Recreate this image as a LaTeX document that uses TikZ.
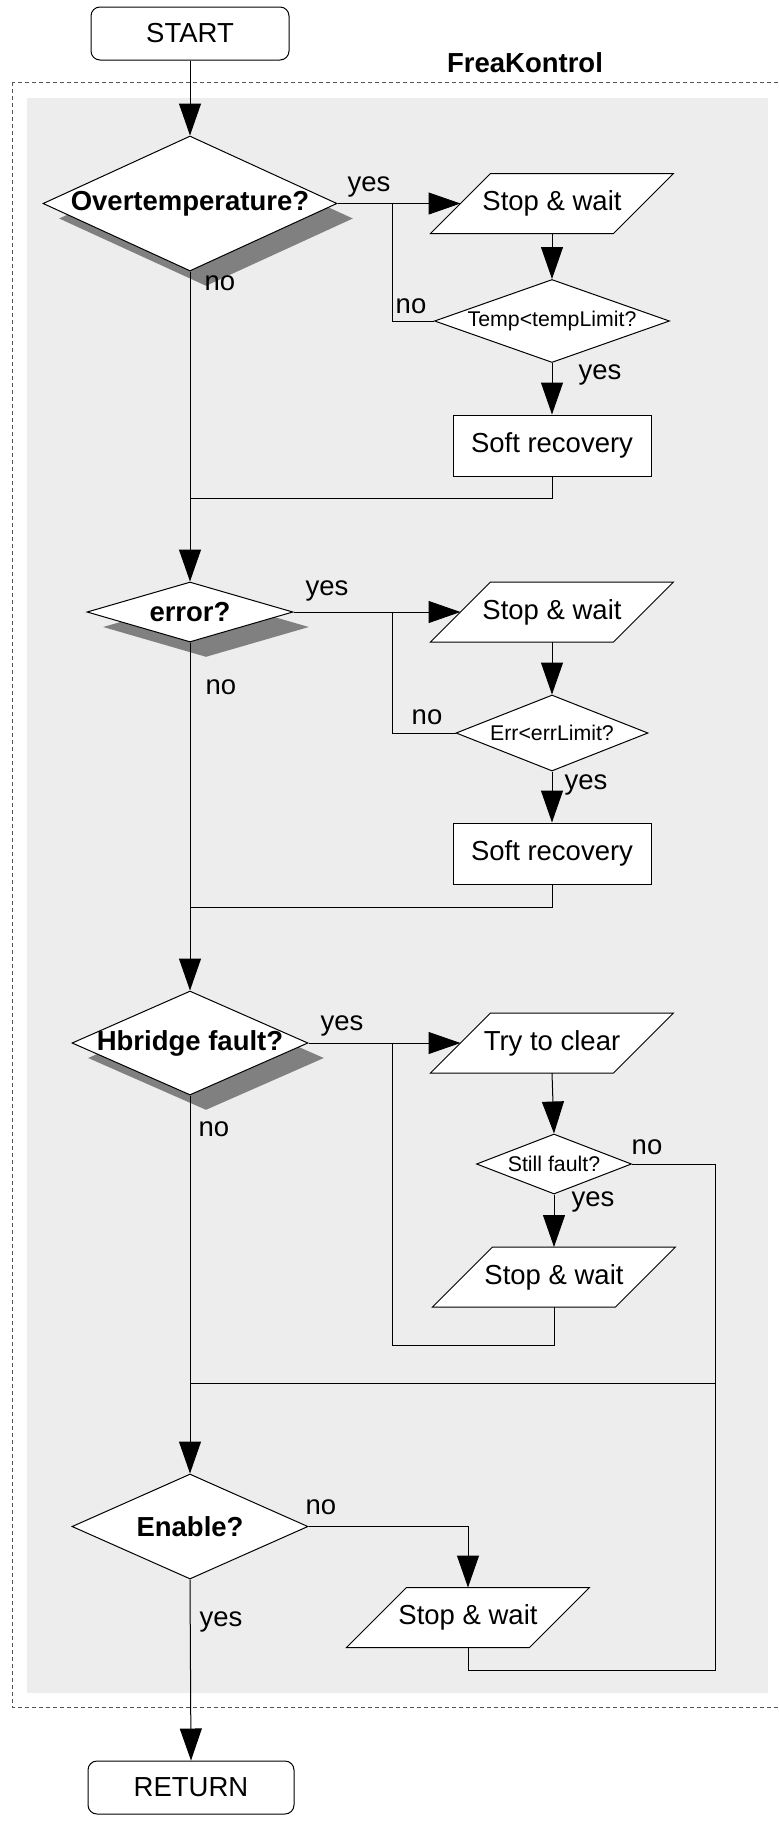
\documentclass[tikz,border=0pt]{standalone}
\usepackage{fontspec}
\setmainfont{Liberation Sans}
\usetikzlibrary{shapes.geometric,arrows.meta,shadows}
\definecolor{bggray}{RGB}{237,237,237}
\definecolor{shgray}{RGB}{128,128,128}
\definecolor{dashgray}{RGB}{85,85,85}
\begin{document}
\begin{tikzpicture}[x=1pt,y=-1pt,line width=1pt,
  big/.style={font=\fontsize{27.5}{32}\selectfont},
  bigb/.style={font=\fontsize{27.5}{32}\selectfont\bfseries},
  small/.style={font=\fontsize{21.3}{25}\selectfont},
  lbl/.style={big, inner sep=0pt},
  arr/.style={-{Triangle[length=32pt,width=22pt]}},
  terminal/.style={draw, fill=white, rectangle, rounded corners=9pt, minimum width=#1, minimum height=53pt, inner sep=0pt, big},
  decision/.style n args={2}{draw, fill=white, diamond, minimum width=#1, minimum height=#2, inner sep=0pt},
  shadowed/.style={drop shadow={shadow xshift=16pt, shadow yshift=-15pt, fill=shgray, opacity=1}},
  process/.style={draw, fill=white, rectangle, minimum width=198pt, minimum height=61pt, inner sep=0pt, big},
  io/.style={draw, fill=white, trapezium, trapezium left angle=45, trapezium right angle=135,
    inner sep=0pt, outer sep=0pt, text width=123pt, text height=30pt, text depth=30pt},
]
\useasboundingbox (0,0) rectangle (779,1821);
% container
\fill[bggray] (27,98) rectangle (768,1693);
\draw[dashgray, line width=0.8pt, dash pattern=on 4pt off 3pt] (12,82) rectangle (800,1707);
\node[bigb, inner sep=0pt] (title) at (525,63) {FreaKontrol};

% terminals
\node[terminal=198pt] (start) at (190,33.5) {START};
\node[terminal=206pt] (ret) at (191,1787.5) {RETURN};

% main decisions
\node[decision={294pt}{135pt}, shadowed, label={[bigb]center:Overtemperature?}] (d1) at (190,203.5) {};
\node[decision={206pt}{60pt}, shadowed, label={[bigb]center:error?}] (d2) at (190,612) {};
\node[decision={236pt}{104pt}, shadowed, label={[bigb]center:Hbridge fault?}] (d3) at (190,1043) {};
\node[decision={236pt}{105pt}, label={[bigb]center:Enable?}] (d4) at (190,1526.5) {};

% block 1
\node[io, label={[big]center:Stop \& wait}] (p1) at (552,203.5) {};
\node[decision={235pt}{83pt}, label={[small]center:Temp<tempLimit?}] (s1) at (552,321) {};
\node[process] (r1) at (552,445.5) {Soft recovery};

% block 2
\node[io, label={[big]center:Stop \& wait}] (p2) at (552,612) {};
\node[decision={192pt}{76pt}, label={[small]center:Err<errLimit?}] (s2) at (552,733) {};
\node[process] (r2) at (552,853.5) {Soft recovery};

% block 3
\node[io, label={[big]center:Try to clear}] (p3) at (552,1043) {};
\node[decision={155pt}{60pt}, label={[small]center:Still fault?}] (s3) at (554,1164) {};
\node[io, label={[big]center:Stop \& wait}] (p4) at (554,1277) {};

% block 4
\node[io, label={[big]center:Stop \& wait}] (p5) at (468,1617.5) {};

% junction coordinates
\coordinate (j1) at (392,203.5);
\coordinate (j2) at (392,612);
\coordinate (j3) at (392,1043);
\coordinate (m1) at (190,498);
\coordinate (m2) at (190,907);
\coordinate (m3) at (190,1383);
\coordinate (k1) at (715,1383);
\coordinate (k2) at (715,1670);
\coordinate (q1) at (392,1345);

% main line
\draw[arr] (start.south) -- (d1.north);
\draw[arr] (d1.south) -- (d2.north);
\draw[arr] (d2.south) -- (d3.north);
\draw[arr] (d3.south) -- (d4.north);
\draw[arr] (d4.south) -- (ret.north);

% block 1 edges
\draw[arr] (d1.east) -- (p1.left side);
\draw[arr] (p1.south) -- (s1.north);
\draw (s1.west) -| (j1);
\draw[arr] (s1.south) -- (r1.north);
\draw (r1.south) |- (m1);

% block 2 edges
\draw[arr] (d2.east) -- (p2.left side);
\draw[arr] (p2.south) -- (s2.north);
\draw (s2.west) -| (j2);
\draw[arr] (s2.south) -- (r2.north);
\draw (r2.south) |- (m2);

% block 3 edges
\draw[arr] (d3.east) -- (p3.left side);
\draw[arr] (p3.south) -- (s3.north);
\draw[arr] (s3.south) -- (p4.north);
\draw (p4.south) |- (q1) -- (j3);
\draw (s3.east) -| (k2) -| (p5.south);
\draw (k1) -- (m3);

% block 4 edges
\draw[arr] (d4.east) -| (p5.north);

% branch labels
\node[lbl] (y1) at (369,187) {yes};
\node[lbl] (n1) at (220,283) {no};
\node[lbl] (n2) at (411,306) {no};
\node[lbl] (y2) at (600,375) {yes};
\node[lbl] (y3) at (327,591) {yes};
\node[lbl] (n3) at (221,687) {no};
\node[lbl] (n4) at (427,717) {no};
\node[lbl] (y4) at (586,785) {yes};
\node[lbl] (y5) at (342,1026) {yes};
\node[lbl] (n5) at (214,1129) {no};
\node[lbl] (n6) at (647,1147) {no};
\node[lbl] (y6) at (593,1202) {yes};
\node[lbl] (n7) at (321,1507) {no};
\node[lbl] (y7) at (221,1622) {yes};
\end{tikzpicture}
\end{document}
